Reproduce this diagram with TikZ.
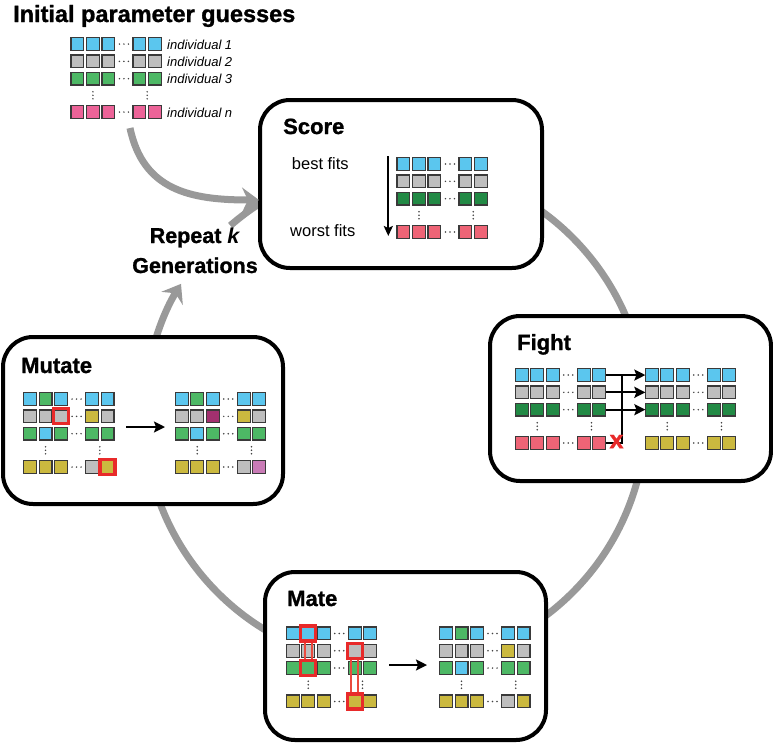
\documentclass[tikz,border=0pt]{standalone}
\usepackage{fontspec}
\setmainfont{Liberation Sans}
\newfontfamily\heavyfont{Liberation Sans}[BoldFeatures={FakeBold=1.2}]
\usetikzlibrary{arrows.meta,calc}
\definecolor{cblue}{HTML}{5BC6EE}
\definecolor{cgray}{HTML}{BEBEBE}
\definecolor{clgreen}{HTML}{4DB865}
\definecolor{cdgreen}{HTML}{228A45}
\definecolor{cpink}{HTML}{EC6398}
\definecolor{cred}{HTML}{EE6476}
\definecolor{colive}{HTML}{CBB93F}
\definecolor{cpurple}{HTML}{A3306F}
\definecolor{clpurple}{HTML}{C97BB6}
\definecolor{cellline}{HTML}{3A3A3A}
\definecolor{dotcol}{HTML}{444444}
\definecolor{hlred}{HTML}{E82A2A}
\definecolor{hlline}{HTML}{EA4A3E}
\definecolor{cyclegray}{HTML}{999999}
\tikzset{
  cellbox/.style={rectangle, draw=cellline, line width=1.2pt, minimum width=12.8pt, minimum height=12.8pt, inner sep=0pt, outer sep=0pt},
  hlbox/.style={rectangle, draw=hlred, line width=3.2pt, minimum width=15pt, minimum height=15pt, inner sep=0pt, outer sep=0pt},
  hlconn/.style={draw=hlline, line width=1.8pt},
  panel/.style={rectangle, draw=black, line width=4pt, rounded corners=30pt, fill=white, inner sep=0pt},
  title/.style={anchor=base west, font=\fontsize{22}{22}\selectfont\heavyfont\bfseries, inner sep=0pt},
  lab/.style={anchor=west, font=\fontsize{13}{13}\selectfont\itshape, inner sep=0pt},
  fitlab/.style={anchor=base west, font=\fontsize{16.5}{16.5}\selectfont, inner sep=0pt},
  replab/.style={anchor=base, font=\fontsize{21.5}{21.5}\selectfont\heavyfont\bfseries, inner sep=0pt},
  cyc/.style={draw=cyclegray, line width=7pt},
  cycarrow/.style={cyc, -{Stealth[length=17pt,width=25pt,inset=6pt]}},
  flowarrow/.style={draw=black, line width=2pt, -{Stealth[length=11pt,width=11pt,inset=2pt]}},
  thinline/.style={draw=black, line width=2pt},
}
\newcommand\cellrow[8]{%
  \node[cellbox,fill=#4] (#1-1) at ({#2+6.75},{#3+6.75}) {};
  \node[cellbox,fill=#5] (#1-2) at ({#2+22.25},{#3+6.75}) {};
  \node[cellbox,fill=#6] (#1-3) at ({#2+37.75},{#3+6.75}) {};
  \node[cellbox,fill=#7] (#1-4) at ({#2+68.75},{#3+6.75}) {};
  \node[cellbox,fill=#8] (#1-5) at ({#2+84.25},{#3+6.75}) {};
  \foreach \k in {-4.5,0,4.5} \fill[dotcol] ({#2+53.25+(\k)},{#3+6.75}) circle[radius=0.85pt];
}
\newcommand\vdotsat[2]{\foreach \k in {-3.5,0,3.5} \fill[dotcol] ({#1},{#2+(\k)}) circle[radius=0.85pt];}
\newcommand\vdotspair[2]{\vdotsat{#1+22.25}{#2+58}\vdotsat{#1+76.5}{#2+58}}
\begin{document}
\begin{tikzpicture}[x=1pt,y=-1pt]
\useasboundingbox (0,0) rectangle (773,742);
% cycle (behind panels)
\draw[cyc] ({395+251*cos(131)},{415-251*sin(131)}) arc[start angle=131, end angle=-195, radius=251pt];
\draw[cycarrow] ({395+251*cos(170)},{415-251*sin(170)}) arc[start angle=170, end angle=148.5, radius=251pt];
% panels
\node[panel, minimum width=282pt, minimum height=168pt] (score) at (401,184) {};
\node[panel, minimum width=281pt, minimum height=165pt] (fight) at (630.5,398.5) {};
\node[panel, minimum width=280pt, minimum height=167pt] (mutate) at (143,420.5) {};
\node[panel, minimum width=281pt, minimum height=168pt] (mate) at (405.5,656) {};
% titles
\node[title, font=\fontsize{23.5}{23.5}\selectfont\heavyfont\bfseries] (tinit) at (13,22) {Initial parameter guesses};
\node[title] (tscore) at (283,134) {Score};
\node[title] (tfight) at (517,350) {Fight};
\node[title] (tmutate) at (21,373) {Mutate};
\node[title] (tmate) at (287,606) {Mate};
\node[replab] (rep1) at (195,243) {Repeat \textit{k}};
\node[replab] (rep2) at (195,273) {Generations};
% input arrow
\coordinate (inS) at (130,128);
\coordinate (inE) at (259,200);
\draw[cycarrow] (inS) .. controls (143,190) and (190,200) .. (inE);
% initial guesses
\cellrow{in1}{70.7}{37.3}{cblue}{cblue}{cblue}{cblue}{cblue}
\cellrow{in2}{70.7}{37.3+17.3}{cgray}{cgray}{cgray}{cgray}{cgray}
\cellrow{in3}{70.7}{37.3+34.6}{clgreen}{clgreen}{clgreen}{clgreen}{clgreen}
\cellrow{in4}{70.7}{37.3+68}{cpink}{cpink}{cpink}{cpink}{cpink}
\vdotspair{70.7}{37.3}
\node[lab] (l1) at (167,44.6) {individual 1};
\node[lab] (l2) at (167,61.9) {individual 2};
\node[lab] (l3) at (167,79.2) {individual 3};
\node[lab] (l4) at (167,112.6) {individual \textit{n}};
% score
\cellrow{s1}{396.7}{157.3}{cblue}{cblue}{cblue}{cblue}{cblue}
\cellrow{s2}{396.7}{157.3+17.3}{cgray}{cgray}{cgray}{cgray}{cgray}
\cellrow{s3}{396.7}{157.3+34.6}{cdgreen}{cdgreen}{cdgreen}{cdgreen}{cdgreen}
\cellrow{s4}{396.7}{157.3+68}{cred}{cred}{cred}{cred}{cred}
\vdotspair{396.7}{157.3}
\node[fitlab] (best) at (291.7,169) {best fits};
\node[fitlab] (worst) at (290,236.7) {worst fits};
\coordinate (sa1) at (388.3,156);
\coordinate (sa2) at (388.3,236);
\draw[draw=black, line width=2pt, -{Stealth[length=10pt,width=9pt,inset=2pt]}] (sa1) -- (sa2);
% fight
\cellrow{fl1}{515}{368.3}{cblue}{cblue}{cblue}{cblue}{cblue}
\cellrow{fl2}{515}{368.3+17.3}{cgray}{cgray}{cgray}{cgray}{cgray}
\cellrow{fl3}{515}{368.3+34.6}{cdgreen}{cdgreen}{cdgreen}{cdgreen}{cdgreen}
\cellrow{fl4}{515}{368.3+68}{cred}{cred}{cred}{cred}{cred}
\vdotspair{515}{368.3}
\cellrow{fr1}{645}{368.3}{cblue}{cblue}{cblue}{cblue}{cblue}
\cellrow{fr2}{645}{368.3+17.3}{cgray}{cgray}{cgray}{cgray}{cgray}
\cellrow{fr3}{645}{368.3+34.6}{cdgreen}{cdgreen}{cdgreen}{cdgreen}{cdgreen}
\cellrow{fr4}{645}{368.3+68}{colive}{colive}{colive}{colive}{colive}
\vdotspair{645}{368.3}
\coordinate (fj) at (621.7,375.05);
\draw[thinline] (fl4-5.east) -| (fj);
\draw[flowarrow] (fl1-5.east) -- (fr1-1.west);
\draw[flowarrow] (fl2-5.east) -- (fr2-1.west);
\draw[flowarrow] (fl3-5.east) -- (fr3-1.west);
\node[text=hlred, font=\fontsize{25}{25}\selectfont\heavyfont\bfseries, inner sep=0pt] (fx) at (616.5,441.5) {x};
% mutate
\cellrow{ml1}{23.3}{392.3}{cblue}{clgreen}{cblue}{cblue}{cblue}
\cellrow{ml2}{23.3}{392.3+17.3}{cgray}{cgray}{cgray}{colive}{cgray}
\cellrow{ml3}{23.3}{392.3+34.6}{clgreen}{cblue}{clgreen}{clgreen}{clgreen}
\cellrow{ml4}{23.3}{392.3+68}{colive}{colive}{colive}{cgray}{colive}
\vdotspair{23.3}{392.3}
\cellrow{mr1}{175}{392.3}{cblue}{clgreen}{cblue}{cblue}{cblue}
\cellrow{mr2}{175}{392.3+17.3}{cgray}{cgray}{cpurple}{colive}{cgray}
\cellrow{mr3}{175}{392.3+34.6}{clgreen}{cblue}{clgreen}{clgreen}{clgreen}
\cellrow{mr4}{175}{392.3+68}{colive}{colive}{colive}{cgray}{clpurple}
\vdotspair{175}{392.3}
\node[hlbox] (mh1) at (ml2-3) {};
\node[hlbox] (mh2) at (ml4-5) {};
\coordinate (mua) at (126,427);
\coordinate (mub) at (165,427);
\draw[flowarrow] (mua) -- (mub);
% mate
\cellrow{al1}{286}{626.7}{cblue}{cblue}{cblue}{cblue}{cblue}
\cellrow{al2}{286}{626.7+17.3}{cgray}{cgray}{cgray}{cgray}{cgray}
\cellrow{al3}{286}{626.7+34.6}{clgreen}{clgreen}{clgreen}{clgreen}{clgreen}
\cellrow{al4}{286}{626.7+68}{colive}{colive}{colive}{colive}{colive}
\vdotspair{286}{626.7}
\cellrow{ar1}{439.3}{626.7}{cblue}{clgreen}{cblue}{cblue}{cblue}
\cellrow{ar2}{439.3}{626.7+17.3}{cgray}{cgray}{cgray}{colive}{cgray}
\cellrow{ar3}{439.3}{626.7+34.6}{clgreen}{cblue}{clgreen}{clgreen}{clgreen}
\cellrow{ar4}{439.3}{626.7+68}{colive}{colive}{colive}{cgray}{colive}
\vdotspair{439.3}{626.7}
\draw[hlconn] ([xshift=-3.5pt]al1-2.center) -- ([xshift=-3.5pt]al3-2.center);
\draw[hlconn] ([xshift=3.5pt]al1-2.center) -- ([xshift=3.5pt]al3-2.center);
\draw[hlconn] ([xshift=-3.5pt]al2-4.center) -- ([xshift=-3.5pt]al4-4.center);
\draw[hlconn] ([xshift=3.5pt]al2-4.center) -- ([xshift=3.5pt]al4-4.center);
\node[hlbox, fill=cblue] (ah1) at (al1-2) {};
\node[hlbox, fill=clgreen] (ah2) at (al3-2) {};
\node[hlbox, fill=cgray] (ah3) at (al2-4) {};
\node[hlbox, fill=colive] (ah4) at (al4-4) {};
\coordinate (maa) at (389,665);
\coordinate (mab) at (427,665);
\draw[flowarrow] (maa) -- (mab);
\end{tikzpicture}
\end{document}
